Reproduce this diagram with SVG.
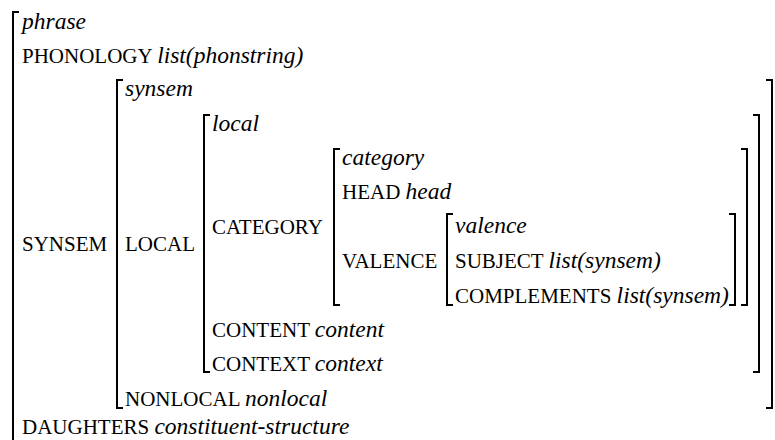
<svg xmlns="http://www.w3.org/2000/svg" width="775" height="440" viewBox="0 0 775 440" font-family="Liberation Serif, Tinos, Times New Roman, Times, DejaVu Serif, serif">
<style>
text,tspan{font-family:Liberation Serif, Tinos, Times New Roman, Times, serif}
.f{font-size:21px;fill:#000}
.i{font-size:23.5px;font-style:italic;fill:#000}
.b{fill:none;stroke:#000;stroke-width:2}
</style>
<rect width="775" height="440" fill="#fff"/>
<g id="brackets">
<path class="b" d="M19,12 H13 V445"/>
<path class="b" d="M123,80 H117 V408 H123"/>
<path class="b" d="M210,115 H204 V372 H210"/>
<path class="b" d="M340,149 H334 V305 H340"/>
<path class="b" d="M453,214 H447 V305 H453"/>
<path class="b" d="M729,214 H735 V305 H729"/>
<path class="b" d="M741,149 H747 V305 H741"/>
<path class="b" d="M753,115 H759 V372 H753"/>
<path class="b" d="M766,80 H772 V408 H766"/>
</g>
<g id="phrase">
<text class="i" x="22" y="29">phrase</text>
<text x="22" y="63"><tspan class="f">PHONOLOGY </tspan><tspan class="i">list(phonstring)</tspan></text>
<text class="f" x="22" y="251">SYNSEM</text>
<text x="22" y="434"><tspan class="f">DAUGHTERS </tspan><tspan class="i">constituent-structure</tspan></text>
</g>
<g id="synsem">
<text class="i" x="125" y="96">synsem</text>
<text class="f" x="125" y="251">LOCAL</text>
<text x="125" y="406"><tspan class="f">NONLOCAL </tspan><tspan class="i">nonlocal</tspan></text>
</g>
<g id="local">
<text class="i" x="212" y="131">local</text>
<text class="f" x="212" y="234">CATEGORY</text>
<text x="212" y="337"><tspan class="f">CONTENT </tspan><tspan class="i">content</tspan></text>
<text x="212" y="371"><tspan class="f">CONTEXT </tspan><tspan class="i">context</tspan></text>
</g>
<g id="category">
<text class="i" x="342" y="165">category</text>
<text x="342" y="199"><tspan class="f">HEAD </tspan><tspan class="i">head</tspan></text>
<text class="f" x="342" y="268">VALENCE</text>
</g>
<g id="valence">
<text class="i" x="455" y="233">valence</text>
<text x="455" y="268"><tspan class="f">SUBJECT </tspan><tspan class="i">list(synsem)</tspan></text>
<text x="455" y="303"><tspan class="f">COMPLEMENTS </tspan><tspan class="i">list(synsem)</tspan></text>
</g>
</svg>
